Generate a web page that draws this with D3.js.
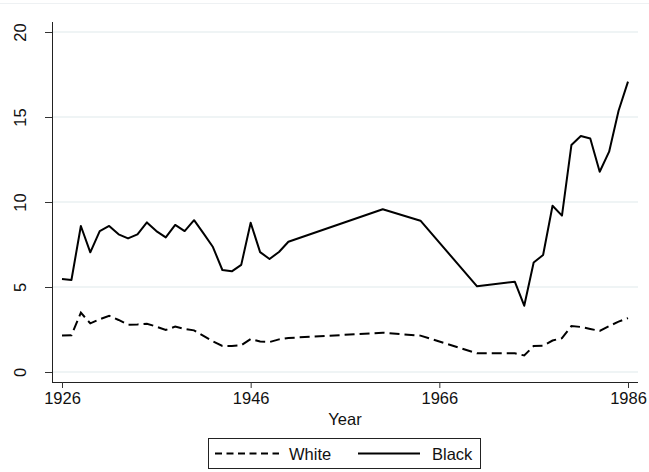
<!DOCTYPE html>
<html>
<head>
<meta charset="utf-8">
<script src="https://cdn.jsdelivr.net/npm/d3@7"></script>
<style>
  body { margin: 0; background: #fff; }
  svg { display: block; font-family: Arial, "Liberation Sans", sans-serif; }
</style>
</head>
<body>
<div id="chart"></div>
<script>
// Data
var years = [1926, 1927, 1928, 1929, 1930, 1931, 1932, 1933, 1934, 1935,
             1936, 1937, 1938, 1939, 1940, 1941, 1942, 1943, 1944, 1945,
             1946, 1947, 1948, 1949, 1950, 1960, 1964, 1970, 1974, 1975,
             1976, 1977, 1978, 1979, 1980, 1981, 1982, 1983, 1984, 1985, 1986];
var white = [2.14, 2.16, 3.49, 2.86, 3.1, 3.31, 3.06, 2.78, 2.8, 2.84,
             2.67, 2.47, 2.67, 2.53, 2.45, 2.12, 1.8, 1.53, 1.53, 1.57,
             1.94, 1.79, 1.76, 1.92, 2.0, 2.31, 2.14, 1.1, 1.1, 0.97,
             1.53, 1.55, 1.85, 1.99, 2.7, 2.65, 2.53, 2.42, 2.7, 2.96, 3.17];
var black = [5.47, 5.41, 8.59, 7.04, 8.29, 8.59, 8.1, 7.86, 8.1, 8.8,
             8.29, 7.92, 8.65, 8.29, 8.93, 8.15, 7.35, 6.0, 5.92, 6.3,
             8.78, 7.05, 6.65, 7.06, 7.66, 9.57, 8.9, 5.04, 5.31, 3.9,
             6.44, 6.88, 9.78, 9.2, 13.35, 13.88, 13.73, 11.78, 12.96, 15.37, 17.08];
var xTicks = [1926, 1946, 1966, 1986];
var yTicks = [0, 5, 10, 15, 20];

//Width and height
var w = 649;
var h = 472;
var fs = "16.5px";

var svg = d3.select("#chart")
            .append("svg")
            .attr("width", w)
            .attr("height", h);

var x = d3.scaleLinear().domain([1926, 1986]).range([62, 628]);
var y = d3.scaleLinear().domain([0, 20]).range([372, 32]);

var plotLeft = 52, plotRight = 638, plotTop = 22, plotBottom = 382;

// faint outer border line at the top
svg.append("line")
   .attr("x1", 0).attr("x2", w)
   .attr("y1", 3.5).attr("y2", 3.5)
   .style("stroke", "#eef1f3")
   .style("stroke-width", 1);

// gridlines
svg.selectAll(".grid")
   .data(yTicks)
   .enter()
   .append("line")
   .attr("class", "grid")
   .attr("x1", plotLeft + 1).attr("x2", plotRight)
   .attr("y1", function(d) { return y(d); })
   .attr("y2", function(d) { return y(d); })
   .style("stroke", "#eaf0f2")
   .style("stroke-width", 1.5);

// y axis
var yAxis = d3.axisLeft(y)
              .tickValues(yTicks)
              .tickSize(7)
              .tickPadding(0)
              .tickFormat(d3.format("d"));
var gy = svg.append("g")
            .attr("transform", "translate(" + plotLeft + ",0)")
            .call(yAxis);
gy.select(".domain")
  .attr("d", "M0.5," + plotTop + "V" + plotBottom);
gy.selectAll(".tick line").style("stroke", "#333");
gy.selectAll(".tick text")
  .attr("transform", "rotate(-90)")
  .attr("x", 0)
  .attr("y", -26)
  .attr("dy", 0)
  .style("text-anchor", "middle")
  .style("font-size", fs)
  .style("fill", "#111");

// x axis
var xAxis = d3.axisBottom(x)
              .tickValues(xTicks)
              .tickSize(6)
              .tickPadding(4)
              .tickFormat(d3.format("d"));
var gx = svg.append("g")
            .attr("transform", "translate(0," + plotBottom + ")")
            .call(xAxis);
gx.select(".domain")
  .attr("d", "M" + plotLeft + ",0.5H" + plotRight);
gx.selectAll(".tick line").style("stroke", "#333");
gx.selectAll(".tick text")
  .style("font-size", fs)
  .style("fill", "#111");
svg.selectAll(".domain").style("stroke", "#222");

svg.append("text")
   .attr("x", (plotLeft + plotRight) / 2)
   .attr("y", 425)
   .attr("text-anchor", "middle")
   .style("font-size", fs)
   .style("fill", "#111")
   .text("Year");

// lines
var rows = years.map(function(yr, i) {
    return { year: yr, white: white[i], black: black[i] };
});

var whiteLine = d3.line()
                  .x(function(d) { return x(d.year); })
                  .y(function(d) { return y(d.white); });
var blackLine = d3.line()
                  .x(function(d) { return x(d.year); })
                  .y(function(d) { return y(d.black); });

svg.append("path")
   .datum(rows)
   .attr("d", whiteLine)
   .style("fill", "none")
   .style("stroke", "#000")
   .style("stroke-width", 2)
   .style("stroke-dasharray", "10,5");

svg.append("path")
   .datum(rows)
   .attr("d", blackLine)
   .style("fill", "none")
   .style("stroke", "#000")
   .style("stroke-width", 2)
   .style("stroke-linejoin", "round");

// legend
var legend = svg.append("g");
legend.append("rect")
      .attr("x", 208.5).attr("y", 438.5)
      .attr("width", 272).attr("height", 30)
      .style("fill", "#fff")
      .style("stroke", "#222")
      .style("stroke-width", 1);
legend.append("line")
      .attr("x1", 215).attr("x2", 279)
      .attr("y1", 453.5).attr("y2", 453.5)
      .style("stroke", "#000")
      .style("stroke-width", 2)
      .style("stroke-dasharray", "7,4.5");
legend.append("text")
      .attr("x", 289).attr("y", 459.5)
      .style("font-size", fs)
      .style("fill", "#111")
      .text("White");
legend.append("line")
      .attr("x1", 358).attr("x2", 420)
      .attr("y1", 453.5).attr("y2", 453.5)
      .style("stroke", "#000")
      .style("stroke-width", 2);
legend.append("text")
      .attr("x", 432).attr("y", 459.5)
      .style("font-size", fs)
      .style("fill", "#111")
      .text("Black");
</script>
</body>
</html>
